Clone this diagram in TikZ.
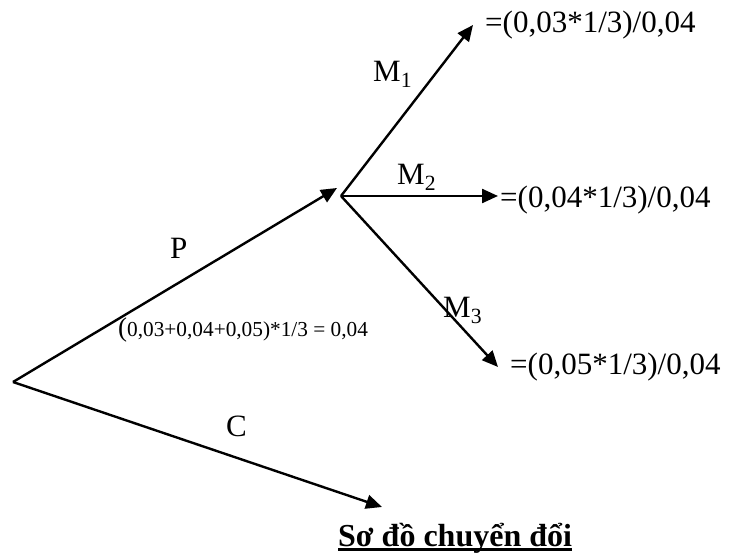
\documentclass[tikz,border=0pt]{standalone}
\usepackage{fontspec}
\setmainfont{Liberation Serif}
\usetikzlibrary{arrows.meta}
\begin{document}
\begin{tikzpicture}[x=1pt,y=-1pt,
  conn/.style={line width=2.4pt,-{Triangle[length=16pt,width=14pt]}},
  txt/.style={anchor=base west,inner sep=0pt,font=\fontsize{31}{36}\selectfont},
  small/.style={anchor=base west,inner sep=0pt,font=\fontsize{21.3}{24}\selectfont},
  titlestyle/.style={anchor=base west,inner sep=0pt,font=\bfseries\fontsize{32}{36}\selectfont}]
\useasboundingbox (0,0) rectangle (740,553);
% points
\coordinate (O) at (13,382);
\coordinate (B) at (341,196);
\coordinate (Pend) at (337,188);
\coordinate (t1) at (473,25);
\coordinate (t2) at (498,196);
\coordinate (t3) at (498,367);
\coordinate (t4) at (382,507);
% connectors
\draw[conn] (O) -- (Pend);
\draw[conn] (B) -- (t1);
\draw[conn] (B) -- (t2);
\draw[conn] (B) -- (t3);
\draw[conn] (O) -- (t4);
% results
\node[txt] (r1) at (485,33) {=(0,03*1/3)/0,04};
\node[txt] (r2) at (500,208) {=(0,04*1/3)/0,04};
\node[txt] (r3) at (510,375) {=(0,05*1/3)/0,04};
% labels
\node[txt] (m1) at (373,82) {M\textsubscript{1}};
\node[txt] (m2) at (397,185) {M\textsubscript{2}};
\node[txt] (m3) at (443,318) {M\textsubscript{3}};
\node[txt] (p) at (170,259) {P};
\node[txt] (c) at (226,437) {C};
\node[small] (f) at (118,337) {{\fontsize{27}{30}\selectfont(}0,03+0,04+0,05)*1/3 = 0,04};
% title
\node[titlestyle] (title) at (338,547) {Sơ đồ chuyển đổi};
\draw[line width=3pt] ([yshift=-3pt]title.base west) -- ([yshift=-3pt]title.base east);
\end{tikzpicture}
\end{document}
